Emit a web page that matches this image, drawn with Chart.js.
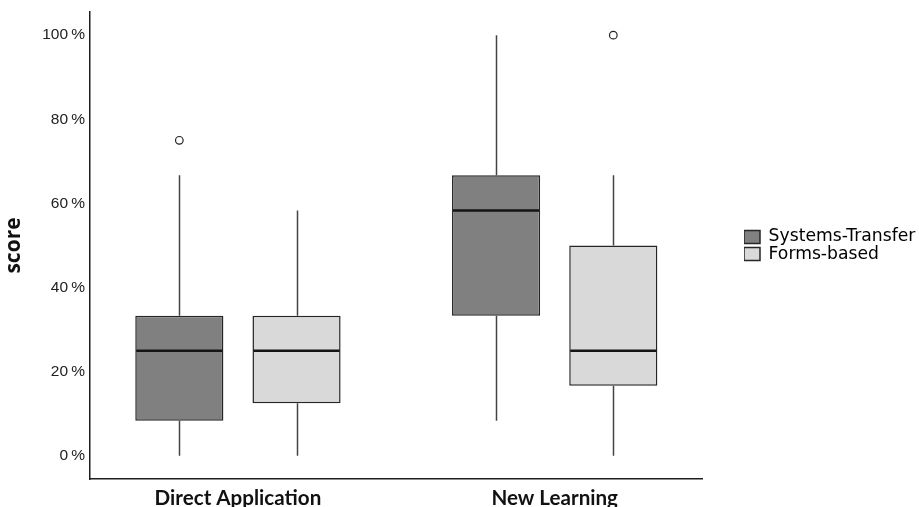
<!DOCTYPE html>
<html>
<head>
<meta charset="utf-8">
<script src="https://cdn.jsdelivr.net/npm/chart.js@4/dist/chart.umd.min.js"></script>
<style>
  html, body { margin: 0; padding: 0; background: #ffffff; }
  #wrap { width: 919px; height: 507px; }
</style>
</head>
<body>
<div id="wrap"><canvas id="c" width="919" height="507"></canvas></div>
<script>
// ---- data (percent scores) ----
const categories = ['Direct Application', 'New Learning'];
const seriesNames = ['Systems-Transfer', 'Forms-based'];

const stMin      = [0, 8.33];
const stQ1       = [8.33, 33.33];
const stMedian   = [25, 58.33];
const stQ3       = [33.33, 66.67];
const stMax      = [66.67, 100];
const stOutliers = [[75], []];

const fbMin      = [0, 0];
const fbQ1       = [12.5, 16.67];
const fbMedian   = [25, 25];
const fbQ3       = [33.33, 50];
const fbMax      = [58.33, 66.67];
const fbOutliers = [[], [100]];

const yTicks = [0, 20, 40, 60, 80, 100];

const series = [
  { min: stMin, q1: stQ1, med: stMedian, q3: stQ3, max: stMax, out: stOutliers },
  { min: fbMin, q1: fbQ1, med: fbMedian, q3: fbQ3, max: fbMax, out: fbOutliers }
];
const fills = ['#808080', '#d9d9d9'];

const boxPlugin = {
  id: 'boxParts',
  beforeDatasetsDraw(chart) {
    const ctx = chart.ctx, y = chart.scales.y;
    ctx.save();
    ctx.strokeStyle = '#444444';
    ctx.lineWidth = 1.5;
    series.forEach((s, i) => {
      const meta = chart.getDatasetMeta(i);
      meta.data.forEach((bar, j) => {
        const x = Math.round(bar.x) + 0.5;
        ctx.beginPath();
        ctx.moveTo(x, y.getPixelForValue(s.max[j]));
        ctx.lineTo(x, y.getPixelForValue(s.q3[j]));
        ctx.moveTo(x, y.getPixelForValue(s.q1[j]));
        ctx.lineTo(x, y.getPixelForValue(s.min[j]));
        ctx.stroke();
      });
    });
    ctx.restore();
  },
  afterDatasetsDraw(chart) {
    const ctx = chart.ctx, y = chart.scales.y;
    ctx.save();
    series.forEach((s, i) => {
      const meta = chart.getDatasetMeta(i);
      meta.data.forEach((bar, j) => {
        const half = bar.width / 2;
        const my = y.getPixelForValue(s.med[j]);
        ctx.strokeStyle = '#141414';
        ctx.lineWidth = 2.5;
        ctx.beginPath();
        ctx.moveTo(bar.x - half + 1, my);
        ctx.lineTo(bar.x + half - 1, my);
        ctx.stroke();
        s.out[j].forEach(v => {
          ctx.beginPath();
          ctx.arc(bar.x, y.getPixelForValue(v), 3.8, 0, Math.PI * 2);
          ctx.fillStyle = '#ffffff';
          ctx.fill();
          ctx.strokeStyle = '#222222';
          ctx.lineWidth = 1.2;
          ctx.stroke();
        });
      });
    });
    ctx.restore();
  }
};

const datasets = series.map((s, i) => ({
  label: seriesNames[i],
  data: categories.map((c, j) => ({ x: j, y: [s.q1[j], s.q3[j]] })),
  backgroundColor: fills[i],
  borderColor: '#262626',
  borderWidth: 1.5,
  borderSkipped: false,
  categoryPercentage: 0.74,
  barPercentage: 0.752
}));

new Chart(document.getElementById('c'), {
  type: 'bar',
  data: { datasets },
  plugins: [boxPlugin],
  options: {
    responsive: false,
    devicePixelRatio: 1,
    animation: false,
    layout: { padding: { top: 12, left: 0, right: 0, bottom: 0 } },
    plugins: {
      tooltip: { enabled: false },
      legend: {
        position: 'right',
        align: 'center',
        fullSize: false,
        maxWidth: 175,
        labels: {
          boxWidth: 16,
          boxHeight: 13,
          padding: 0,
          color: '#000000',
          font: { family: 'DejaVu Sans', size: 17.2 }
        }
      }
    },
    scales: {
      x: {
        type: 'linear',
        min: -0.467,
        max: 1.465,
        offset: false,
        grid: { display: false, drawTicks: false },
        border: { display: true, color: '#1e1e1e', width: 1.5 },
        ticks: {
          autoSkip: false,
          maxRotation: 0,
          padding: 7,
          color: '#111111',
          font: { family: 'Lato', size: 20.6, weight: 'bold' },
          callback: (v) => categories[v] !== undefined ? categories[v] : ''
        },
        afterBuildTicks: (s) => { s.ticks = categories.map((c, i) => ({ value: i })); },
        afterFit: (s) => { s.height = 28; s.paddingLeft = 0; s.paddingRight = 0; }
      },
      y: {
        min: -5.5,
        max: 105.5,
        grid: { display: false, drawTicks: false },
        border: { display: true, color: '#1e1e1e', width: 1.5 },
        ticks: {
          includeBounds: false,
          stepSize: 20,
          padding: 5,
          color: '#222222',
          font: { family: 'Liberation Sans', size: 15.5 },
          callback: (v) => yTicks.includes(v) ? v + '\u2009%' : ''
        },
        title: {
          display: true,
          text: 'score',
          color: '#111111',
          font: { family: 'Open Sans', size: 21, weight: 'bold' },
          padding: { top: 1, bottom: 0 }
        },
        afterFit: (s) => { s.width = 90; s.paddingTop = 0; s.paddingBottom = 0; }
      },
      spacer: {
        type: 'linear',
        position: 'right',
        display: true,
        grid: { display: false, drawTicks: false },
        border: { display: false },
        ticks: { display: false },
        afterFit: (s) => { s.width = 42; s.paddingTop = 0; s.paddingBottom = 0; }
      }
    }
  }
});
</script>
</body>
</html>
